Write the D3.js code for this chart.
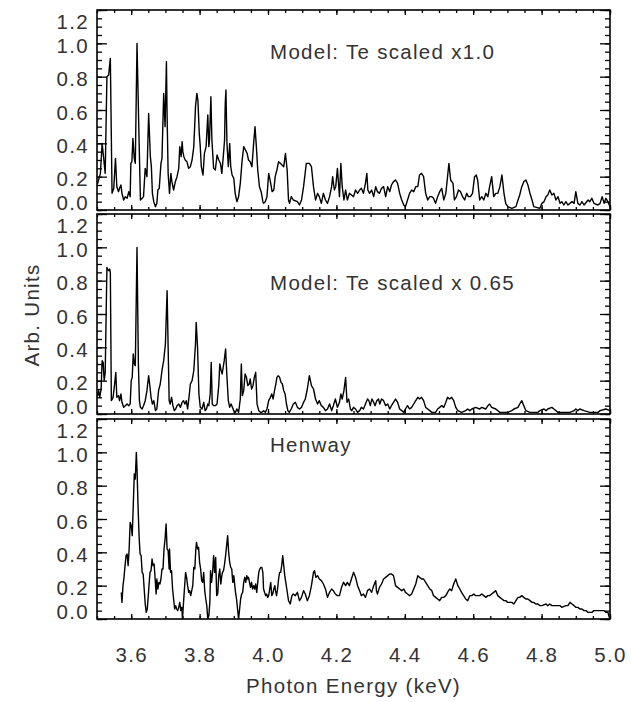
<!DOCTYPE html>
<html>
<head>
<meta charset="utf-8">
<script src="https://cdn.jsdelivr.net/npm/d3@7"></script>
<style>
  body { margin: 0; background: #fff; }
  svg { display: block; font-family: "Liberation Sans", Arial, Helvetica, sans-serif; }
</style>
</head>
<body>
<svg id="chart"></svg>
<script>
// x-ray spectra, [energy keV, arb. units]
const modelTe10 = [
  [3.500,0.17],[3.502,0.16],[3.510,0.22],[3.515,0.40],[3.519,0.32],[3.524,0.22],[3.529,0.80],[3.534,0.81],[3.539,0.91],
  [3.544,0.10],[3.549,0.13],[3.554,0.31],[3.558,0.14],[3.563,0.11],[3.566,0.13],[3.570,0.15],[3.573,0.10],[3.578,0.06],
  [3.583,0.08],[3.588,0.07],[3.593,0.11],[3.597,0.08],[3.599,0.28],[3.602,0.29],[3.605,0.43],[3.609,0.31],[3.612,0.28],
  [3.617,1.00],[3.623,0.42],[3.627,0.06],[3.632,0.07],[3.636,0.08],[3.641,0.25],[3.646,0.20],[3.651,0.58],[3.656,0.32],
  [3.659,0.26],[3.662,0.10],[3.666,0.05],[3.671,0.02],[3.675,0.04],[3.678,0.12],[3.682,0.13],[3.687,0.28],[3.690,0.31],
  [3.695,0.70],[3.699,0.50],[3.703,0.89],[3.705,0.56],[3.708,0.22],[3.712,0.10],[3.716,0.22],[3.719,0.17],[3.724,0.12],
  [3.729,0.17],[3.734,0.20],[3.739,0.25],[3.742,0.38],[3.746,0.32],[3.749,0.41],[3.751,0.35],[3.754,0.32],[3.758,0.30],
  [3.763,0.29],[3.768,0.25],[3.773,0.26],[3.778,0.30],[3.783,0.38],[3.788,0.62],[3.792,0.70],[3.795,0.66],[3.799,0.46],
  [3.802,0.38],[3.805,0.26],[3.810,0.21],[3.814,0.34],[3.819,0.38],[3.824,0.57],[3.827,0.38],[3.829,0.42],[3.833,0.68],
  [3.836,0.42],[3.841,0.25],[3.846,0.24],[3.851,0.33],[3.856,0.30],[3.861,0.28],[3.865,0.22],[3.870,0.34],[3.873,0.42],
  [3.875,0.64],[3.877,0.72],[3.880,0.40],[3.884,0.26],[3.888,0.40],[3.891,0.26],[3.895,0.21],[3.900,0.19],[3.904,0.10],
  [3.909,0.05],[3.914,0.08],[3.919,0.16],[3.924,0.29],[3.929,0.38],[3.934,0.36],[3.939,0.34],[3.943,0.30],[3.948,0.29],
  [3.953,0.26],[3.958,0.40],[3.962,0.50],[3.966,0.38],[3.970,0.24],[3.975,0.14],[3.980,0.11],[3.985,0.05],[3.987,0.04],
  [3.992,0.05],[3.997,0.08],[4.002,0.22],[4.007,0.17],[4.012,0.11],[4.017,0.12],[4.021,0.20],[4.026,0.24],[4.031,0.29],
  [4.036,0.28],[4.041,0.27],[4.046,0.26],[4.051,0.34],[4.056,0.24],[4.060,0.06],[4.063,0.04],[4.068,0.08],[4.074,0.06],
  [4.086,0.05],[4.092,0.03],[4.098,0.06],[4.104,0.14],[4.112,0.28],[4.121,0.28],[4.127,0.26],[4.133,0.14],[4.139,0.06],
  [4.145,0.10],[4.150,0.08],[4.156,0.04],[4.162,0.10],[4.168,0.06],[4.174,0.04],[4.180,0.08],[4.186,0.14],[4.189,0.20],
  [4.194,0.12],[4.198,0.14],[4.203,0.25],[4.209,0.08],[4.213,0.28],[4.217,0.14],[4.222,0.06],[4.227,0.12],[4.232,0.06],
  [4.238,0.10],[4.244,0.09],[4.250,0.08],[4.256,0.12],[4.262,0.10],[4.268,0.12],[4.273,0.13],[4.279,0.10],[4.285,0.16],
  [4.289,0.22],[4.292,0.12],[4.297,0.10],[4.303,0.12],[4.309,0.08],[4.315,0.14],[4.320,0.11],[4.326,0.10],[4.332,0.13],
  [4.338,0.14],[4.344,0.08],[4.350,0.14],[4.356,0.11],[4.361,0.15],[4.367,0.17],[4.373,0.18],[4.379,0.16],[4.385,0.10],
  [4.391,0.06],[4.397,0.03],[4.402,0.02],[4.408,0.06],[4.414,0.10],[4.420,0.12],[4.426,0.11],[4.432,0.14],[4.438,0.14],
  [4.443,0.21],[4.449,0.22],[4.455,0.20],[4.461,0.10],[4.467,0.06],[4.473,0.08],[4.479,0.08],[4.484,0.07],[4.490,0.04],
  [4.496,0.08],[4.502,0.11],[4.508,0.13],[4.514,0.06],[4.520,0.10],[4.525,0.20],[4.529,0.28],[4.534,0.18],[4.541,0.16],
  [4.545,0.06],[4.551,0.08],[4.557,0.12],[4.563,0.11],[4.569,0.08],[4.575,0.06],[4.581,0.10],[4.586,0.08],[4.592,0.08],
  [4.598,0.10],[4.604,0.20],[4.609,0.21],[4.613,0.18],[4.619,0.06],[4.625,0.08],[4.631,0.06],[4.637,0.10],[4.643,0.08],
  [4.648,0.14],[4.654,0.20],[4.660,0.08],[4.666,0.10],[4.672,0.10],[4.678,0.14],[4.684,0.21],[4.690,0.10],[4.695,0.04],
  [4.701,0.02],[4.713,0.01],[4.725,0.02],[4.731,0.06],[4.736,0.09],[4.742,0.14],[4.748,0.17],[4.754,0.18],[4.760,0.15],
  [4.766,0.10],[4.772,0.06],[4.777,0.02],[4.795,0.01],[4.801,0.04],[4.807,0.05],[4.813,0.08],[4.818,0.09],[4.824,0.12],
  [4.830,0.09],[4.836,0.10],[4.842,0.06],[4.848,0.08],[4.854,0.04],[4.859,0.05],[4.865,0.03],[4.871,0.05],[4.877,0.03],
  [4.889,0.05],[4.895,0.04],[4.900,0.11],[4.906,0.04],[4.912,0.03],[4.918,0.05],[4.924,0.03],[4.936,0.06],[4.941,0.05],
  [4.947,0.07],[4.953,0.04],[4.965,0.03],[4.971,0.04],[4.977,0.08],[4.983,0.04],[4.988,0.07],[4.994,0.05],[5.000,0.02]
];

const modelTe065 = [
  [3.500,0.13],[3.502,0.11],[3.505,0.14],[3.508,0.10],[3.512,0.15],[3.515,0.32],[3.518,0.31],[3.521,0.20],[3.524,0.25],
  [3.529,0.88],[3.531,0.87],[3.534,0.86],[3.537,0.87],[3.539,0.85],[3.542,0.08],[3.547,0.10],[3.551,0.17],[3.555,0.25],
  [3.558,0.10],[3.563,0.11],[3.566,0.08],[3.570,0.12],[3.573,0.07],[3.578,0.04],[3.583,0.05],[3.588,0.06],[3.593,0.05],
  [3.597,0.06],[3.600,0.20],[3.603,0.22],[3.606,0.36],[3.609,0.30],[3.612,0.29],[3.617,1.00],[3.621,0.30],[3.624,0.08],
  [3.627,0.04],[3.632,0.03],[3.636,0.05],[3.641,0.08],[3.646,0.14],[3.651,0.23],[3.654,0.18],[3.658,0.10],[3.662,0.06],
  [3.666,0.08],[3.671,0.02],[3.675,0.03],[3.680,0.14],[3.685,0.18],[3.690,0.26],[3.695,0.32],[3.700,0.42],[3.705,0.74],
  [3.708,0.40],[3.711,0.08],[3.714,0.06],[3.718,0.10],[3.722,0.05],[3.726,0.02],[3.730,0.03],[3.734,0.05],[3.739,0.06],
  [3.744,0.04],[3.749,0.07],[3.753,0.08],[3.757,0.06],[3.761,0.08],[3.765,0.03],[3.769,0.10],[3.773,0.18],[3.778,0.20],
  [3.783,0.26],[3.788,0.42],[3.790,0.55],[3.794,0.40],[3.798,0.12],[3.802,0.04],[3.807,0.03],[3.812,0.07],[3.816,0.02],
  [3.820,0.03],[3.824,0.06],[3.827,0.05],[3.831,0.12],[3.834,0.31],[3.837,0.06],[3.841,0.05],[3.846,0.05],[3.851,0.06],
  [3.856,0.17],[3.859,0.30],[3.863,0.26],[3.866,0.24],[3.872,0.32],[3.876,0.39],[3.880,0.22],[3.884,0.08],[3.888,0.04],
  [3.892,0.06],[3.896,0.04],[3.900,0.02],[3.905,0.01],[3.909,0.03],[3.914,0.01],[3.919,0.09],[3.922,0.30],[3.925,0.11],
  [3.929,0.14],[3.933,0.24],[3.937,0.22],[3.941,0.17],[3.945,0.18],[3.948,0.21],[3.952,0.15],[3.956,0.17],[3.960,0.22],
  [3.964,0.25],[3.968,0.06],[3.973,0.02],[3.978,0.01],[3.982,0.01],[3.987,0.02],[3.992,0.01],[3.997,0.03],[4.002,0.08],
  [4.007,0.10],[4.011,0.12],[4.015,0.09],[4.019,0.14],[4.023,0.18],[4.026,0.22],[4.030,0.23],[4.034,0.22],[4.038,0.19],
  [4.042,0.18],[4.046,0.14],[4.050,0.12],[4.054,0.06],[4.058,0.02],[4.062,0.01],[4.068,0.03],[4.074,0.06],[4.080,0.07],
  [4.086,0.04],[4.092,0.03],[4.098,0.04],[4.104,0.07],[4.109,0.09],[4.115,0.15],[4.121,0.23],[4.127,0.17],[4.133,0.15],
  [4.139,0.09],[4.145,0.06],[4.150,0.08],[4.156,0.05],[4.162,0.04],[4.168,0.02],[4.174,0.03],[4.180,0.06],[4.186,0.02],
  [4.191,0.05],[4.197,0.09],[4.203,0.04],[4.209,0.07],[4.213,0.12],[4.217,0.09],[4.222,0.14],[4.227,0.22],[4.231,0.07],
  [4.236,0.09],[4.241,0.03],[4.245,0.02],[4.250,0.04],[4.256,0.03],[4.262,0.01],[4.268,0.02],[4.273,0.04],[4.279,0.03],
  [4.285,0.06],[4.291,0.09],[4.295,0.08],[4.299,0.05],[4.304,0.09],[4.309,0.07],[4.313,0.05],[4.318,0.08],[4.323,0.09],
  [4.327,0.06],[4.332,0.09],[4.338,0.08],[4.344,0.05],[4.350,0.06],[4.356,0.03],[4.361,0.05],[4.367,0.07],[4.373,0.09],
  [4.379,0.07],[4.385,0.03],[4.391,0.02],[4.397,0.01],[4.402,0.03],[4.408,0.05],[4.414,0.03],[4.420,0.04],[4.426,0.06],
  [4.432,0.08],[4.438,0.10],[4.443,0.09],[4.449,0.10],[4.455,0.08],[4.461,0.04],[4.467,0.03],[4.473,0.02],[4.479,0.01],
  [4.490,0.01],[4.496,0.03],[4.502,0.04],[4.508,0.05],[4.514,0.04],[4.520,0.07],[4.525,0.10],[4.531,0.09],[4.537,0.10],
  [4.543,0.08],[4.549,0.04],[4.555,0.02],[4.566,0.01],[4.578,0.02],[4.584,0.03],[4.590,0.02],[4.596,0.03],[4.607,0.04],
  [4.619,0.03],[4.625,0.04],[4.637,0.03],[4.643,0.05],[4.648,0.06],[4.654,0.04],[4.666,0.03],[4.678,0.01],[4.690,0.01],
  [4.701,0.01],[4.713,0.02],[4.719,0.03],[4.731,0.04],[4.736,0.06],[4.742,0.08],[4.748,0.05],[4.754,0.02],[4.766,0.01],
  [4.789,0.01],[4.795,0.02],[4.807,0.03],[4.813,0.02],[4.818,0.03],[4.830,0.04],[4.836,0.03],[4.848,0.01],[4.871,0.01],
  [4.883,0.01],[4.895,0.02],[4.900,0.03],[4.906,0.02],[4.912,0.03],[4.924,0.02],[4.941,0.01],[4.965,0.01],[4.971,0.02],
  [4.988,0.03],[5.000,0.02]
];

const henway = [
  [3.571,0.16],[3.573,0.10],[3.576,0.20],[3.579,0.25],[3.582,0.32],[3.585,0.38],[3.588,0.39],[3.591,0.32],[3.594,0.42],
  [3.597,0.58],[3.600,0.56],[3.603,0.50],[3.606,0.68],[3.609,0.87],[3.612,0.84],[3.615,1.00],[3.617,0.90],[3.620,0.68],
  [3.623,0.50],[3.626,0.39],[3.629,0.38],[3.632,0.28],[3.635,0.27],[3.638,0.18],[3.641,0.09],[3.644,0.04],[3.647,0.06],
  [3.650,0.14],[3.652,0.20],[3.655,0.28],[3.658,0.29],[3.661,0.36],[3.664,0.32],[3.667,0.33],[3.670,0.24],[3.673,0.15],
  [3.675,0.24],[3.678,0.18],[3.681,0.22],[3.684,0.21],[3.687,0.24],[3.690,0.30],[3.693,0.30],[3.696,0.42],[3.699,0.48],
  [3.702,0.57],[3.705,0.42],[3.708,0.41],[3.711,0.30],[3.712,0.42],[3.715,0.28],[3.718,0.29],[3.721,0.18],[3.724,0.12],
  [3.727,0.06],[3.730,0.08],[3.733,0.06],[3.736,0.05],[3.739,0.07],[3.742,0.10],[3.745,0.05],[3.748,0.07],[3.750,0.00],
  [3.753,0.10],[3.756,0.19],[3.759,0.28],[3.762,0.25],[3.765,0.20],[3.768,0.16],[3.771,0.17],[3.774,0.14],[3.777,0.17],
  [3.780,0.20],[3.783,0.31],[3.786,0.30],[3.789,0.42],[3.791,0.46],[3.794,0.42],[3.797,0.43],[3.800,0.34],[3.803,0.30],
  [3.806,0.23],[3.809,0.22],[3.812,0.28],[3.815,0.17],[3.818,0.12],[3.821,0.08],[3.824,0.00],[3.827,0.02],[3.830,0.10],
  [3.832,0.29],[3.835,0.22],[3.838,0.28],[3.841,0.38],[3.844,0.28],[3.847,0.37],[3.850,0.14],[3.853,0.15],[3.856,0.26],
  [3.859,0.30],[3.862,0.21],[3.865,0.26],[3.867,0.28],[3.870,0.29],[3.873,0.33],[3.876,0.38],[3.879,0.44],[3.882,0.50],
  [3.885,0.40],[3.888,0.34],[3.891,0.31],[3.894,0.30],[3.897,0.22],[3.900,0.26],[3.903,0.20],[3.905,0.16],[3.908,0.12],
  [3.911,0.06],[3.914,0.00],[3.917,0.06],[3.920,0.12],[3.923,0.15],[3.926,0.16],[3.929,0.22],[3.932,0.25],[3.935,0.22],
  [3.938,0.26],[3.941,0.24],[3.943,0.25],[3.946,0.22],[3.949,0.19],[3.952,0.22],[3.955,0.18],[3.958,0.20],[3.961,0.18],
  [3.964,0.21],[3.967,0.16],[3.970,0.22],[3.973,0.28],[3.976,0.30],[3.979,0.31],[3.982,0.31],[3.985,0.28],[3.987,0.18],
  [3.990,0.16],[3.993,0.14],[3.996,0.15],[3.999,0.13],[4.002,0.14],[4.005,0.18],[4.008,0.22],[4.011,0.14],[4.014,0.15],
  [4.017,0.18],[4.020,0.20],[4.022,0.17],[4.025,0.14],[4.028,0.18],[4.031,0.24],[4.034,0.28],[4.037,0.28],[4.040,0.32],
  [4.043,0.38],[4.046,0.32],[4.049,0.26],[4.052,0.22],[4.055,0.18],[4.060,0.11],[4.065,0.09],[4.070,0.14],[4.074,0.15],
  [4.080,0.14],[4.086,0.16],[4.092,0.11],[4.098,0.13],[4.104,0.17],[4.109,0.15],[4.115,0.11],[4.121,0.14],[4.127,0.20],
  [4.133,0.28],[4.136,0.29],[4.140,0.25],[4.145,0.26],[4.150,0.24],[4.156,0.23],[4.162,0.21],[4.168,0.18],[4.174,0.13],
  [4.180,0.16],[4.186,0.18],[4.191,0.17],[4.197,0.15],[4.203,0.14],[4.209,0.14],[4.215,0.19],[4.221,0.22],[4.227,0.20],
  [4.232,0.22],[4.238,0.20],[4.244,0.24],[4.250,0.28],[4.256,0.25],[4.262,0.20],[4.268,0.17],[4.273,0.14],[4.279,0.15],
  [4.285,0.13],[4.291,0.17],[4.297,0.18],[4.303,0.16],[4.309,0.20],[4.315,0.23],[4.317,0.17],[4.320,0.15],[4.326,0.19],
  [4.332,0.21],[4.338,0.24],[4.344,0.25],[4.350,0.26],[4.356,0.27],[4.361,0.27],[4.367,0.26],[4.373,0.20],[4.379,0.19],
  [4.385,0.18],[4.391,0.17],[4.397,0.18],[4.402,0.16],[4.408,0.15],[4.414,0.14],[4.420,0.15],[4.426,0.18],[4.432,0.21],
  [4.438,0.26],[4.443,0.25],[4.449,0.24],[4.455,0.24],[4.461,0.22],[4.467,0.20],[4.473,0.18],[4.479,0.17],[4.484,0.14],
  [4.490,0.13],[4.496,0.12],[4.502,0.11],[4.508,0.13],[4.514,0.13],[4.520,0.14],[4.525,0.16],[4.531,0.18],[4.537,0.17],
  [4.543,0.21],[4.549,0.24],[4.555,0.20],[4.561,0.18],[4.566,0.16],[4.572,0.14],[4.578,0.12],[4.584,0.11],[4.590,0.14],
  [4.596,0.14],[4.602,0.15],[4.607,0.14],[4.613,0.14],[4.619,0.14],[4.625,0.15],[4.631,0.14],[4.637,0.13],[4.643,0.14],
  [4.648,0.14],[4.654,0.15],[4.660,0.16],[4.666,0.17],[4.672,0.14],[4.678,0.13],[4.684,0.12],[4.690,0.11],[4.695,0.11],
  [4.701,0.10],[4.707,0.10],[4.713,0.10],[4.719,0.09],[4.725,0.11],[4.731,0.13],[4.736,0.13],[4.742,0.14],[4.748,0.13],
  [4.754,0.12],[4.760,0.12],[4.766,0.11],[4.772,0.10],[4.777,0.10],[4.783,0.09],[4.789,0.09],[4.795,0.08],[4.801,0.08],
  [4.813,0.09],[4.818,0.08],[4.824,0.09],[4.830,0.08],[4.836,0.08],[4.848,0.08],[4.854,0.08],[4.859,0.07],[4.871,0.08],
  [4.877,0.08],[4.883,0.10],[4.889,0.09],[4.895,0.08],[4.900,0.07],[4.906,0.07],[4.912,0.06],[4.918,0.06],[4.924,0.05],
  [4.930,0.05],[4.936,0.04],[4.947,0.04],[4.953,0.05],[4.965,0.05],[4.977,0.05],[4.983,0.05],[4.988,0.04],[4.994,0.04],
  [4.998,0.01],[5.000,0.00]
];

const panelTitles = ["Model: Te scaled x1.0", "Model: Te scaled x 0.65", "Henway"];
const xMajorTicks = [3.6, 3.8, 4.0, 4.2, 4.4, 4.6, 4.8, 5.0];
const yMajorTicks = [0.0, 0.2, 0.4, 0.6, 0.8, 1.0, 1.2];
const xDomain = [3.5, 5.0];
const yDomain = [0, 1.2];

const W = 631, H = 702;
const left = 97, right = 610;
const panelTops = [10, 214, 419];
const panelH = 200;
const titleY = [59, 290, 452];
const textColor = "#333";
const fontSize = 20.5;
const spacing = "1.3px";

const svg = d3.select("#chart").attr("width", W).attr("height", H);

const x = d3.scaleLinear().domain(xDomain).range([left, right]);
const xMinor = d3.range(3.5, 5.0001, 0.05).map(v => +v.toFixed(2));
const yMinor = d3.range(0, 1.2001, 0.05).map(v => +v.toFixed(2));

const series = [modelTe10, modelTe065, henway];

series.forEach((data, i) => {
    const top = panelTops[i], bottom = top + panelH;
    const y = d3.scaleLinear().domain(yDomain).range([bottom, top]);
    const g = svg.append("g");

    g.append("clipPath").attr("id", "clip" + i)
        .append("rect").attr("x", left).attr("y", top).attr("width", right - left).attr("height", panelH);

    const line = d3.line().x(d => x(d[0])).y(d => y(d[1]));
    g.append("path")
        .attr("d", line(data))
        .attr("clip-path", `url(#clip${i})`)
        .attr("fill", "none")
        .attr("stroke", "#000")
        .attr("stroke-width", 1.4)
        .attr("stroke-linejoin", "round");

    // minor ticks, all four sides
    const tickStyle = sel => { sel.select(".domain").remove(); sel.selectAll("line").attr("stroke", "#000").attr("stroke-width", 1.3); };
    g.append("g").attr("transform", `translate(${left},0)`)
        .call(d3.axisLeft(y).tickValues(yMinor).tickSize(-5).tickFormat("")).call(tickStyle);
    g.append("g").attr("transform", `translate(${right},0)`)
        .call(d3.axisRight(y).tickValues(yMinor).tickSize(-5).tickFormat("")).call(tickStyle);
    g.append("g").attr("transform", `translate(0,${top})`)
        .call(d3.axisTop(x).tickValues(xMinor).tickSize(-3).tickFormat("")).call(tickStyle);
    g.append("g").attr("transform", `translate(0,${bottom})`)
        .call(d3.axisBottom(x).tickValues(xMinor).tickSize(-3).tickFormat("")).call(tickStyle);

    // major ticks
    const yl = g.append("g").attr("transform", `translate(${left},0)`)
        .call(d3.axisLeft(y).tickValues(yMajorTicks).tickSize(-10).tickPadding(8).tickFormat(d3.format(".1f")))
        .call(tickStyle);
    yl.selectAll("text")
        .attr("fill", textColor)
        .attr("font-size", fontSize)
        .attr("letter-spacing", spacing)
        .attr("dy", null)
        .attr("y", d => {
            const b = y(d) + 9;
            return Math.max(top + 18.5, Math.min(bottom - 0.5, b)) - y(d);
        });
    g.append("g").attr("transform", `translate(${right},0)`)
        .call(d3.axisRight(y).tickValues(yMajorTicks).tickSize(-10).tickFormat("")).call(tickStyle);
    g.append("g").attr("transform", `translate(0,${top})`)
        .call(d3.axisTop(x).tickValues(xMajorTicks).tickSize(-5).tickFormat("")).call(tickStyle);
    const xb = g.append("g").attr("transform", `translate(0,${bottom})`)
        .call(d3.axisBottom(x).tickValues(xMajorTicks).tickSize(-5)
            .tickFormat(i === 2 ? d3.format(".1f") : ""))
        .call(tickStyle);
    xb.selectAll("text")
        .attr("fill", textColor)
        .attr("font-size", fontSize)
        .attr("letter-spacing", spacing)
        .attr("dy", null)
        .attr("y", 43);

    g.append("rect")
        .attr("x", left).attr("y", top).attr("width", right - left).attr("height", panelH)
        .attr("fill", "none").attr("stroke", "#000").attr("stroke-width", 1.6);

    g.append("text")
        .attr("x", 270).attr("y", titleY[i])
        .attr("fill", textColor).attr("font-size", fontSize)
        .attr("letter-spacing", spacing)
        .text(panelTitles[i]);
});

svg.append("text")
    .attr("transform", "translate(39,315) rotate(-90)")
    .attr("text-anchor", "middle")
    .attr("fill", textColor).attr("font-size", fontSize)
    .attr("letter-spacing", spacing)
    .text("Arb. Units");

svg.append("text")
    .attr("x", (left + right) / 2).attr("y", 693)
    .attr("text-anchor", "middle")
    .attr("fill", textColor).attr("font-size", fontSize)
    .attr("letter-spacing", spacing)
    .text("Photon Energy (keV)");
</script>
</body>
</html>
